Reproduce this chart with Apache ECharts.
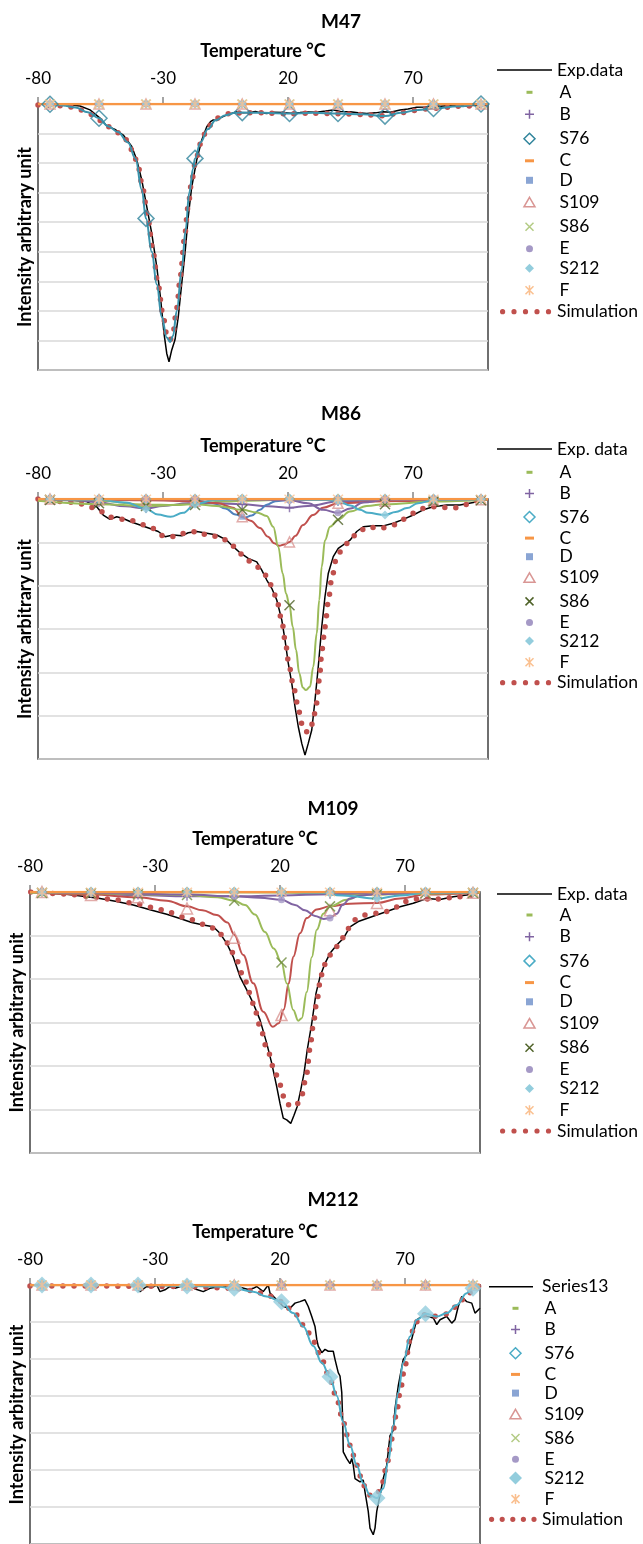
<!DOCTYPE html>
<html><head><meta charset="utf-8">
<script src="https://cdn.jsdelivr.net/npm/echarts@6/dist/echarts.min.js"></script>
<style>html,body{margin:0;padding:0;background:#fff}#c{width:643px;height:1544px}</style>
</head><body><div id="c"></div><script>
// ---------------- data ----------------
const X_TICKS = [-80, -30, 20, 70];
const T_MARK = [-75.2, -55.6, -36.8, -17.2, 1.7, 20.6, 40, 58.8, 78.2, 97.2];
const PANEL_TITLES = ['M47', 'M86', 'M109', 'M212'];
const EXP_NAMES = ['Exp.data', 'Exp. data', 'Exp. data', 'Series13'];
const COMP_NAMES = ['A', 'B', 'S76', 'C', 'D', 'S109', 'S86', 'E', 'S212', 'F'];
const Y_MIN = [-9, -6, -6, -7];
const FLAT = [[-80, 0], [100, 0]];
const ZERO_MARKS = [0, 0, 0, 0, 0, 0, 0, 0, 0, 0];

// M47
const m47Exp = [[-80,0],[-72,-0.01],[-67,-0.03],[-63.2,-0.07],[-59.2,-0.2],[-55.2,-0.48],[-52.5,-0.74],[-49.2,-0.86],[-45.9,-1.05],[-42.5,-1.44],[-40.5,-1.89],[-38.5,-2.57],[-36.5,-3.47],[-34.5,-4.38],[-32.5,-5.5],[-30.9,-6.63],[-29.6,-7.76],[-28.5,-8.44],[-27.6,-8.72],[-26.5,-8.32],[-25.2,-7.98],[-23.9,-7.2],[-22.5,-6.07],[-21.2,-5.05],[-19.9,-3.81],[-18.5,-2.8],[-16.5,-1.89],[-14.5,-1.22],[-12.5,-0.77],[-11,-0.6],[-9.9,-0.54],[-8.5,-0.56],[-7.2,-0.48],[-4.5,-0.37],[-0.5,-0.26],[2,-0.3],[4.8,-0.29],[7,-0.25],[9,-0.3],[11.5,-0.32],[14,-0.28],[18.1,-0.29],[21,-0.31],[24.8,-0.29],[28,-0.27],[31.5,-0.28],[35,-0.24],[38.1,-0.2],[41,-0.25],[44.8,-0.26],[48,-0.3],[51.5,-0.32],[55,-0.3],[58.1,-0.26],[61,-0.28],[64.8,-0.2],[68,-0.17],[71.5,-0.11],[75,-0.1],[78.1,-0.07],[81,-0.08],[84.8,-0.05],[88,-0.06],[91.5,-0.07],[95,-0.04],[99.5,-0.03]];
const m47Sim = [[-80,-0.03],[-75,-0.04],[-70,-0.06],[-65,-0.12],[-61,-0.26],[-57,-0.42],[-53,-0.72],[-49,-0.92],[-45,-1.2],[-42,-1.6],[-40,-2.1],[-38,-2.9],[-36,-3.9],[-34,-5.0],[-32,-6.1],[-30,-7.15],[-28.5,-7.8],[-27.2,-8.0],[-26,-7.75],[-24.5,-6.9],[-23,-5.8],[-21.5,-4.6],[-20,-3.5],[-18.5,-2.6],[-17,-1.95],[-15,-1.35],[-12.5,-0.88],[-10,-0.6],[-7,-0.42],[-3,-0.32],[2,-0.3],[10,-0.3],[20,-0.33],[30,-0.31],[40,-0.33],[50,-0.36],[58,-0.4],[64,-0.32],[70,-0.22],[78,-0.15],[88,-0.08],[100,-0.02]];
const m47S76 = [[-80,0],[-75,-0.01],[-70,-0.05],[-65,-0.12],[-60,-0.28],[-55.6,-0.48],[-52,-0.75],[-48,-0.95],[-44,-1.3],[-41,-1.85],[-38.5,-2.9],[-36.8,-3.87],[-34.5,-5.0],[-32.5,-6.1],[-30.5,-7.2],[-28.5,-7.9],[-27.2,-8.05],[-26,-7.85],[-24.5,-7.0],[-22.5,-5.6],[-21,-4.3],[-19.5,-3.0],[-18,-2.2],[-17.2,-1.84],[-15,-1.3],[-12,-0.85],[-9,-0.55],[-5,-0.38],[-1,-0.3],[1.7,-0.29],[10,-0.3],[20.6,-0.32],[30,-0.3],[40,-0.32],[50,-0.35],[58.8,-0.41],[65,-0.3],[72,-0.2],[78.2,-0.15],[88,-0.08],[97.2,0],[100,0]];
const m47S76Marks = [-0.01, -0.48, -3.87, -1.84, -0.29, -0.32, -0.32, -0.41, -0.15, 0];

// M86
const m86Exp = [[-80,0],[-68.5,-0.02],[-60.5,-0.06],[-56.5,-0.18],[-53.9,-0.37],[-51.2,-0.47],[-48.5,-0.41],[-45.9,-0.45],[-43.2,-0.52],[-39.2,-0.6],[-35.2,-0.68],[-31.9,-0.75],[-29.2,-0.87],[-25.9,-0.83],[-22.5,-0.85],[-19.9,-0.78],[-16.5,-0.75],[-12.5,-0.79],[-8.5,-0.83],[-4.5,-0.95],[-1.9,-1.1],[0.8,-1.24],[4.1,-1.37],[7.5,-1.45],[9.5,-1.64],[11.5,-1.87],[13.5,-2.06],[15.5,-2.33],[17.5,-2.79],[18.8,-3.25],[20.1,-3.79],[21.5,-4.25],[22.8,-4.79],[24.1,-5.25],[25.5,-5.64],[26.8,-5.91],[28.1,-5.64],[29.5,-5.33],[30.8,-4.64],[32.1,-3.87],[33.5,-2.95],[34.8,-2.25],[36.1,-1.72],[38.1,-1.33],[40.1,-1.14],[42.1,-1.06],[44.8,-0.95],[47.5,-0.75],[50.1,-0.64],[54.1,-0.62],[58.1,-0.62],[62.1,-0.56],[66.1,-0.47],[70.1,-0.37],[74.1,-0.25],[78.1,-0.18],[83.5,-0.14],[88.8,-0.14],[94.1,-0.08],[99.5,-0.02]];
const m86Sim = [[-80,0],[-64.5,-0.08],[-60.3,-0.16],[-55.9,-0.25],[-51.2,-0.42],[-42.5,-0.5],[-33.9,-0.68],[-29.9,-0.85],[-24.9,-0.87],[-20.8,-0.78],[-15.9,-0.75],[-11.9,-0.85],[-7.2,-0.87],[-3.2,-1.01],[0.1,-1.22],[3.5,-1.41],[7.5,-1.56],[10.8,-1.75],[13.1,-1.98],[15.2,-2.25],[17.5,-2.79],[18.8,-3.25],[20.5,-3.87],[22.4,-4.39],[24.4,-4.91],[25.5,-5.18],[26.8,-5.37],[28.8,-5.37],[30.1,-5.1],[31.2,-4.79],[32.5,-4.18],[33.6,-3.48],[34.8,-2.95],[36.1,-2.37],[37.5,-1.83],[39.5,-1.33],[41.5,-1.18],[44.8,-0.95],[48.1,-0.75],[52.1,-0.64],[56.8,-0.68],[61.5,-0.62],[65.5,-0.48],[70.1,-0.33],[74.1,-0.22],[78.8,-0.18],[83.5,-0.2],[87.7,-0.2],[92.1,-0.12],[96.8,-0.02],[99.5,0]];
const m86A = [[-80,0],[-55.6,-0.04],[-36.8,-0.13],[-25,-0.14],[-17.2,-0.1],[-5,-0.06],[1.7,-0.04],[20.6,-0.02],[100,0]];
const m86AMarks = [0, -0.04, -0.13, -0.1, -0.04, -0.02, 0, 0, 0, 0];
const m86B = [[-80,0],[-65,-0.03],[-55.6,-0.08],[-45,-0.17],[-36.8,-0.22],[-30,-0.16],[-20,-0.1],[-10,-0.1],[1.7,-0.12],[12,-0.17],[20.6,-0.2],[28,-0.16],[40,-0.06],[58.8,-0.02],[100,0]];
const m86BMarks = [0, -0.08, -0.22, -0.1, -0.12, -0.2, -0.06, -0.02, -0.01, 0];
const m86D = [[-80,0],[-36.8,-0.01],[-17.2,-0.03],[-10,-0.1],[-5,-0.22],[-1,-0.36],[2.5,-0.43],[5.5,-0.38],[8.8,-0.25],[11.5,-0.13],[15,-0.05],[20.6,-0.02],[100,0]];
const m86DMarks = [0, 0, -0.01, -0.03, -0.41, -0.02, 0, 0, 0, 0];
const m86S109 = [[-80,0],[-55.6,-0.02],[-36.8,-0.03],[-17.2,-0.05],[-8,-0.1],[-2,-0.2],[1.7,-0.41],[5,-0.5],[8.8,-0.67],[12,-0.87],[14.5,-1.02],[16.5,-1.08],[18.5,-1.05],[20.6,-0.99],[23,-0.85],[26,-0.6],[30,-0.37],[34,-0.2],[40,-0.1],[58.8,-0.05],[100,-0.02]];
const m86S109Marks = [0, -0.02, -0.03, -0.05, -0.41, -0.99, -0.1, -0.05, -0.03, -0.02];
const m86S86 = [[-80,-0.04],[-55.2,-0.12],[-36.8,-0.16],[-17.2,-0.12],[-8.5,-0.16],[1.7,-0.25],[7.5,-0.31],[11.5,-0.39],[14.1,-0.64],[16.1,-1.1],[17.9,-1.72],[19.2,-2.18],[20.6,-2.45],[21.9,-2.95],[23.2,-3.48],[24.5,-4.02],[25.9,-4.35],[27.2,-4.41],[28.8,-4.33],[30.1,-3.87],[31.5,-3.1],[32.5,-2.33],[33.5,-1.56],[34.8,-0.95],[36.8,-0.64],[40,-0.48],[44.8,-0.29],[51.5,-0.16],[58.8,-0.12],[78.2,-0.06],[99.5,-0.02]];
const m86S86Marks = [-0.02, -0.1, -0.16, -0.14, -0.25, -2.45, -0.48, -0.12, -0.06, -0.03];
const m86E = [[-80,0],[1.7,-0.01],[20.6,-0.03],[28,-0.1],[34,-0.25],[40,-0.32],[45,-0.22],[50,-0.08],[58.8,-0.02],[100,0]];
const m86EMarks = [0, 0, 0, 0, -0.01, -0.03, -0.32, -0.02, 0, 0];
const m86S212 = [[-80,0],[-55.6,-0.02],[-45,-0.08],[-36.8,-0.23],[-32,-0.36],[-27,-0.41],[-22,-0.32],[-17.2,-0.12],[-10,-0.03],[1.7,0],[20.6,0],[35,-0.02],[40,-0.05],[45,-0.15],[48.8,-0.25],[52,-0.32],[58.8,-0.37],[63,-0.3],[67.6,-0.21],[72,-0.1],[78.2,-0.02],[100,0]];
const m86S212Marks = [0, -0.02, -0.23, -0.12, 0, 0, -0.05, -0.37, -0.02, 0];

// M109
const m109Exp = [[-79.7,0],[-65.3,-0.05],[-57.3,-0.11],[-52,-0.15],[-45.3,-0.22],[-38.7,-0.3],[-32,-0.41],[-25.3,-0.51],[-20,-0.61],[-15.3,-0.7],[-10.7,-0.76],[-6.7,-0.8],[-4,-0.95],[-1.3,-1.18],[1.3,-1.49],[4,-1.95],[6.7,-2.25],[9.3,-2.56],[12,-2.94],[14.7,-3.48],[16.7,-3.94],[18.7,-4.48],[20,-4.86],[21.3,-5.2],[22.7,-5.24],[24.3,-5.32],[25.6,-5.13],[26.9,-4.93],[28.3,-4.55],[29.6,-4.17],[30.9,-3.63],[32.7,-3.02],[34.4,-2.33],[36,-1.95],[38,-1.64],[40,-1.41],[42.7,-1.22],[45.3,-1.07],[48,-0.8],[51.3,-0.68],[54.7,-0.61],[58.7,-0.53],[62.7,-0.45],[68,-0.34],[73.3,-0.26],[78.7,-0.15],[84,-0.17],[89.3,-0.11],[94.7,-0.07],[99.3,-0.03]];
const m109Sim = [[-79.7,0],[-64.7,-0.05],[-55.3,-0.11],[-46,-0.18],[-36.7,-0.28],[-27.3,-0.41],[-18.3,-0.58],[-9.3,-0.76],[-5.3,-0.87],[-2,-1.07],[0,-1.3],[2.4,-1.55],[6,-2.04],[9.3,-2.56],[12,-3.08],[14.7,-3.59],[18,-4.13],[19.7,-4.4],[22.4,-4.86],[24.4,-4.92],[26.4,-4.92],[28.7,-4.67],[30.7,-4.17],[32,-3.59],[33.3,-3.06],[34.7,-2.52],[36.3,-1.98],[37.3,-1.72],[39.3,-1.49],[42,-1.3],[44.7,-1.07],[47.3,-0.84],[50,-0.64],[54,-0.53],[58.7,-0.49],[62.9,-0.45],[67.3,-0.34],[71.7,-0.18],[76.3,-0.15],[80.9,-0.17],[85.3,-0.15],[90,-0.12],[97.3,-0.07],[100,-0.03]];
const m109A = [[-80,0],[20.6,-0.01],[40,-0.04],[50,-0.06],[58.8,-0.06],[70,-0.03],[100,0]];
const m109AMarks = [0, 0, 0, 0, 0, -0.01, -0.04, -0.06, -0.02, 0];
const m109B = [[-80,0],[-55.6,-0.03],[-36.8,-0.07],[-17.2,-0.1],[1.7,-0.1],[20.6,-0.08],[40,-0.05],[58.8,-0.02],[100,0]];
const m109BMarks = [0, -0.03, -0.07, -0.1, -0.1, -0.08, -0.05, -0.02, -0.01, 0];
const m109S109 = [[-80,0],[-55.6,-0.06],[-36.8,-0.12],[-25.3,-0.2],[-17.2,-0.33],[-11,-0.42],[-5.3,-0.53],[-1,-0.7],[1.7,-0.98],[5.3,-1.45],[9.3,-2.1],[13.3,-2.75],[17.1,-3.1],[19.5,-3.02],[21.5,-2.7],[23.5,-2.1],[25.3,-1.49],[28,-0.95],[30.7,-0.6],[34.7,-0.4],[40,-0.33],[48,-0.27],[58.8,-0.25],[68,-0.15],[78.2,-0.06],[100,-0.02]];
const m109S109Marks = [0, -0.07, -0.12, -0.38, -1.05, -2.83, -0.42, -0.25, -0.05, -0.02];
const m109S86 = [[-80,-0.02],[-55.6,-0.03],[-36.8,-0.05],[-17.2,-0.07],[-5,-0.12],[1.7,-0.2],[6,-0.3],[10,-0.52],[14,-0.92],[17.5,-1.3],[20.6,-1.62],[22.7,-2.1],[25.3,-2.71],[27.3,-2.96],[28.7,-2.9],[30.7,-2.3],[32.7,-1.5],[34.7,-0.87],[37.3,-0.5],[40,-0.33],[46.7,-0.18],[52,-0.08],[58.8,-0.05],[100,-0.02]];
const m109S86Marks = [-0.02, -0.03, -0.05, -0.07, -0.2, -1.62, -0.33, -0.05, -0.03, -0.02];
const m109E = [[-80,0],[-55.6,-0.02],[-36.8,-0.04],[-17.2,-0.06],[1.7,-0.1],[12,-0.13],[20.6,-0.18],[26,-0.3],[30,-0.42],[34,-0.55],[37.5,-0.62],[40,-0.6],[42.7,-0.5],[45,-0.3],[48,-0.15],[52,-0.08],[58.8,-0.05],[78.2,-0.02],[100,0]];
const m109EMarks = [0, -0.02, -0.04, -0.06, -0.1, -0.18, -0.6, -0.05, -0.02, 0];
const m109S212 = [[-80,0],[20.6,0],[35,-0.02],[45,-0.08],[58.8,-0.15],[68,-0.08],[78.2,-0.02],[100,0]];
const m109S212Marks = [0, 0, 0, 0, 0, 0, -0.03, -0.15, -0.02, 0];

// M212
const m212Exp = [[-80,0],[-60,0],[-45,0],[-38,-0.02],[-36,-0.18],[-34.5,-0.1],[-33.3,-0.04],[-31,-0.06],[-29.3,0],[-28,-0.18],[-26,-0.13],[-24,-0.04],[-22,-0.09],[-19.3,-0.03],[-16,-0.04],[-13.3,-0.12],[-10.7,-0.18],[-8,-0.09],[-4,-0.04],[0,-0.03],[4,-0.06],[7.3,-0.12],[9.3,-0.09],[10.7,-0.04],[13.3,-0.18],[15.3,0],[16,-0.22],[18.7,-0.4],[21.3,-0.58],[24,-0.63],[26,-0.49],[28,-0.45],[30,-0.4],[31.3,-0.58],[32.7,-0.85],[34,-1.12],[34.7,-1.47],[35.3,-1.65],[36.7,-1.83],[38,-1.74],[39.3,-1.79],[40,-1.83],[41.3,-1.79],[42,-2.01],[43.3,-2.37],[44,-2.46],[44.7,-2.9],[45.1,-3.71],[45.3,-4.51],[46.7,-4.69],[48,-4.83],[48.7,-4.69],[49.3,-4.87],[50,-5.23],[52,-5.32],[53.3,-5.27],[54,-5.59],[55.3,-6.12],[56,-6.57],[57.3,-6.75],[58,-6.57],[58.7,-6.12],[60,-5.67],[61.3,-5.23],[62.7,-4.87],[64,-4.07],[65.3,-3.93],[66,-3.35],[67.3,-2.73],[69.3,-2.01],[71.3,-1.83],[73.3,-1.3],[74.7,-0.94],[76.7,-0.85],[79.3,-0.85],[81.3,-0.89],[82.7,-1.07],[84,-0.94],[86.7,-0.85],[88.7,-1.03],[90,-0.94],[91.3,-0.58],[92.7,-0.31],[94.7,-0.45],[96.7,-0.49],[98,-0.76],[100,-0.63]];
const m212Sim = [[-80,-0.03],[-52,-0.03],[-17.3,-0.04],[1.3,-0.09],[9.3,-0.15],[14.7,-0.27],[20.7,-0.45],[25.3,-0.72],[30,-1.12],[33.3,-1.52],[36.7,-2.01],[40,-2.55],[42.7,-3.08],[45.3,-3.71],[48,-4.33],[50.7,-4.87],[53.3,-5.41],[56,-5.68],[58.7,-5.68],[60.7,-5.41],[62.7,-4.87],[64.7,-4.16],[66.7,-3.44],[68,-2.9],[70,-2.19],[72,-1.47],[74,-1.03],[77.3,-0.8],[81.3,-0.85],[86.7,-0.78],[90.7,-0.58],[94.7,-0.27],[98.7,-0.04],[100,-0.02]];
const m212S212 = [[-80,-0.01],[-55.6,0],[-36.8,0],[-17.2,-0.03],[-5.3,-0.04],[1.7,-0.09],[9.3,-0.18],[14.7,-0.31],[20.6,-0.45],[25.3,-0.76],[29.3,-1.12],[33.3,-1.65],[36.7,-2.1],[40,-2.48],[42.7,-2.99],[45.3,-3.71],[48,-4.33],[50.7,-4.87],[53.3,-5.36],[56,-5.68],[58.8,-5.76],[61.3,-5.5],[63.3,-4.78],[65.3,-3.8],[67.3,-2.91],[69.3,-2.1],[72,-1.39],[74.7,-0.94],[78.2,-0.78],[82.7,-0.85],[86.7,-0.76],[90.7,-0.54],[94.7,-0.22],[97.2,-0.09],[100,0]];
const m212S212Marks = [0, 0, 0, -0.03, -0.09, -0.45, -2.48, -5.76, -0.78, -0.09];

// ---------------- assembly ----------------
const PANELS = [
  { exp: m47Exp, sim: m47Sim, comps: { A:[FLAT,ZERO_MARKS], B:[FLAT,ZERO_MARKS], S76:[m47S76,m47S76Marks], C:[FLAT,ZERO_MARKS], D:[FLAT,ZERO_MARKS], S109:[FLAT,ZERO_MARKS], S86:[FLAT,ZERO_MARKS], E:[FLAT,ZERO_MARKS], S212:[FLAT,ZERO_MARKS], F:[FLAT,ZERO_MARKS] } },
  { exp: m86Exp, sim: m86Sim, comps: { A:[m86A,m86AMarks], B:[m86B,m86BMarks], S76:[FLAT,ZERO_MARKS], C:[FLAT,ZERO_MARKS], D:[m86D,m86DMarks], S109:[m86S109,m86S109Marks], S86:[m86S86,m86S86Marks], E:[m86E,m86EMarks], S212:[m86S212,m86S212Marks], F:[FLAT,ZERO_MARKS] } },
  { exp: m109Exp, sim: m109Sim, comps: { A:[m109A,m109AMarks], B:[m109B,m109BMarks], S76:[FLAT,ZERO_MARKS], C:[FLAT,ZERO_MARKS], D:[FLAT,ZERO_MARKS], S109:[m109S109,m109S109Marks], S86:[m109S86,m109S86Marks], E:[m109E,m109EMarks], S212:[m109S212,m109S212Marks], F:[FLAT,ZERO_MARKS] } },
  { exp: m212Exp, sim: m212Sim, comps: { A:[FLAT,ZERO_MARKS], B:[FLAT,ZERO_MARKS], S76:[FLAT,ZERO_MARKS], C:[FLAT,ZERO_MARKS], D:[FLAT,ZERO_MARKS], S109:[FLAT,ZERO_MARKS], S86:[FLAT,ZERO_MARKS], E:[FLAT,ZERO_MARKS], S212:[m212S212,m212S212Marks], F:[FLAT,ZERO_MARKS] } }
];

const FONT = 'Lato, "Open Sans", sans-serif';
const GRIDS = [
  {left:38, top:104, width:450, height:266},
  {left:38, top:499, width:450, height:260},
  {left:30, top:892, width:450, height:261},
  {left:30, top:1285, width:450, height:261}
];
const TITLE_POS = [[341,21.5],[341,414],[333,808.5],[333,1200]];
const LEG = [
  {expX:497, expW:55, lineLen:55, mkX:502, mkW:50, simX:500, simW:52, dots:[2.6,14,25.5,37,48.5], expY:70, aY:93.3, step:21.8, simY:311.7},
  {expX:497, expW:55, lineLen:55, mkX:502, mkW:50, simX:500, simW:52, dots:[2.6,14,25.5,37,48.5], expY:449, aY:473.3, step:20.9, simY:682.7},
  {expX:497, expW:55, lineLen:55, mkX:502, mkW:50, simX:500, simW:52, dots:[2.6,14,25.5,37,48.5], expY:894, aY:916, step:21.5, simY:1131},
  {expX:489, expW:48, lineLen:44, mkX:489, mkW:48, simX:489, simW:48, dots:[2.6,13.2,23.8,34.4,45], expY:1286.7, aY:1309.3, step:21.0, simY:1519.3}
];
const IH = 22;          // legend item height
const ITEM_EXTRA = 2.3; // measured extra height of one legend row

const SYM = {
  plus: 'path://M0,5L10,5M5,0L5,10',
  cross: 'path://M0,0L10,10M10,0L0,10',
  star: 'path://M5,0L5,10M0.8,0.8L9.2,9.2M9.2,0.8L0.8,9.2',
  hDiamond: 'path://M5,0L10,5L5,10L0,5Z',
  hTri: 'path://M5,0L10,9L0,9Z'
};
const BASE_STYLE = {
  A:    {line:'#9BBB59', sym:'rect', size:[6,3], fill:'#9BBB59'},
  B:    {line:'#8064A2', sym:SYM.plus, size:9, stroke:'#8064A2'},
  S76:  {line:'#4BACC6', sym:SYM.hDiamond, size:9, stroke:'#4BACC6'},
  C:    {line:'#F79646', sym:'rect', size:[9,3], fill:'#F79646'},
  D:    {line:'#4F81BD', sym:'rect', size:6, fill:'#8AA5D4'},
  S109: {line:'#C0504D', sym:SYM.hTri, size:10, stroke:'#D99694'},
  S86:  {line:'#9BBB59', sym:SYM.cross, size:9, stroke:'#B3CB84'},
  E:    {line:'#8064A2', sym:'circle', size:7, fill:'#A599C6'},
  S212: {line:'#4BACC6', sym:'diamond', size:9, fill:'#93CDDD'},
  F:    {line:'#F79646', sym:SYM.star, size:10, stroke:'#FAC090'}
};
const PANEL_STYLE = [
  {S76:{line:'#3A93AC', stroke:'#31859C', size:16}},
  {S86:{stroke:'#4F6228', size:10}},
  {S86:{stroke:'#6E8B3D', leg:'#4F6228', size:10}, S109:{size:11}},
  {S212:{size:17, legSize:13}}
];
function styleFor(i, n) { return Object.assign({}, BASE_STYLE[n], (PANEL_STYLE[i] || {})[n] || {}); }

function legendIcon(n, W, st) {
  const c = W / 2, y = IH / 2, pad = 'M0,0M' + W + ',' + IH;
  let d = '';
  switch (n) {
    case 'A': d = `M${c-3},${y-1.5}h6v3h-6z`; break;
    case 'B': d = `M${c-4.5},${y}h9M${c},${y-4.5}v9`; break;
    case 'S76': d = `M${c},${y-5.5}L${c+5.5},${y}L${c},${y+5.5}L${c-5.5},${y}Z`; break;
    case 'C': d = `M${c-4.5},${y-1.5}h9v3h-9z`; break;
    case 'D': d = `M${c-3.5},${y-3.5}h7v7h-7z`; break;
    case 'S109': d = `M${c},${y-5}L${c+5.5},${y+4.5}L${c-5.5},${y+4.5}Z`; break;
    case 'S86': d = `M${c-4},${y-4}L${c+4},${y+4}M${c+4},${y-4}L${c-4},${y+4}`; break;
    case 'E': d = `M${c-3.5},${y}a3.5,3.5 0 1,0 7,0a3.5,3.5 0 1,0 -7,0z`; break;
    case 'S212': { const h = st.legSize ? st.legSize / 2 : 4.5; d = `M${c},${y-h}L${c+h},${y}L${c},${y+h}L${c-h},${y}Z`; break; }
    case 'F': d = `M${c},${y-5}v10M${c-4},${y-4}L${c+4},${y+4}M${c+4},${y-4}L${c-4},${y+4}`; break;
  }
  return 'path://' + pad + d;
}
function lineIcon(W, len) { return `path://M0,0M${W},${IH}M0,${IH/2-0.75}h${len}v1.5h-${len}z`; }
function dotsIcon(W, xs) {
  let d = `M0,0M${W},${IH}`;
  xs.forEach(x => { d += `M${x-2.6},${IH/2}a2.6,2.6 0 1,0 5.2,0a2.6,2.6 0 1,0 -5.2,0z`; });
  return 'path://' + d;
}

const series = [], grids = [], xAxes = [], yAxes = [], legends = [], graphics = [];
PANELS.forEach((P, i) => {
  grids.push(Object.assign({show:true, borderColor:'#404040', borderWidth:1.5, backgroundColor:'transparent'}, GRIDS[i]));
  xAxes.push({
    type:'value', gridIndex:i, position:'top', min:-80, max:100,
    axisLine:{show:true, onZero:false, lineStyle:{color:'#868686', width:1}},
    axisTick:{show:true, customValues:X_TICKS, length:7, lineStyle:{color:'#868686', width:1.5}},
    axisLabel:{customValues:X_TICKS, margin:17, fontFamily:FONT, fontSize:17, color:'#000'},
    splitLine:{show:false},
    name:'Temperature °C', nameLocation:'middle', nameGap:44,
    nameTextStyle:{fontFamily:FONT, fontWeight:'bold', fontSize:18, color:'#000'}
  });
  yAxes.push({
    type:'value', gridIndex:i, min:Y_MIN[i], max:0, interval:1,
    axisLabel:{show:false}, axisTick:{show:false}, axisLine:{show:false},
    splitLine:{show:true, lineStyle:{color:'#D9D9D9', width:1.5}},
    name:'Intensity arbitrary unit', nameLocation:'middle', nameRotate:90, nameGap:4,
    nameTextStyle:{fontFamily:FONT, fontWeight:'bold', fontSize:18, color:'#000'}
  });
  const ax = {xAxisIndex:i, yAxisIndex:i, silent:true};
  series.push(Object.assign({type:'line', name:EXP_NAMES[i], data:P.exp, symbol:'none', lineStyle:{color:'#000', width:1.5}, z:2}, ax));
  series.push(Object.assign({type:'line', name:'Simulation', data:P.sim, symbol:'none', smooth:0.3, smoothMonotone:'x', lineStyle:{color:'#C0504D', width:5.5, type:[0, 11], cap:'round'}, z:3}, ax));
  COMP_NAMES.forEach(n => {
    const st = styleFor(i, n);
    const [line, marks] = P.comps[n];
    series.push(Object.assign({type:'line', name:n, data:line, symbol:'none', smooth:0.4, smoothMonotone:'x', lineStyle:{color:st.line, width:n === 'C' ? 2.5 : 2}, z: n === 'C' ? 5 : 4}, ax));
    series.push(Object.assign({type:'scatter', name:n, data:T_MARK.map((t, k) => [t, marks[k]]), symbol:st.sym, symbolSize:st.size,
      itemStyle: st.fill ? {color:st.fill, borderWidth:0} : {color:'none', borderColor:st.stroke, borderWidth:1.5},
      z: n === 'F' ? 8 : 6}, ax));
  });
  // legends
  const L = LEG[i];
  const base = {orient:'vertical', padding:0, selectedMode:false, itemHeight:IH, height:400,
    textStyle:{fontFamily:FONT, fontSize:17.5, color:'#000'}};
  legends.push(Object.assign({}, base, {left:L.expX, top:L.expY - IH / 2, itemWidth:L.expW,
    data:[{name:EXP_NAMES[i], icon:lineIcon(L.expW, L.lineLen), itemStyle:{color:'#000', borderWidth:0}}]}));
  legends.push(Object.assign({}, base, {left:L.mkX, top:L.aY - IH / 2 - 1, itemWidth:L.mkW, itemGap:L.step - IH - ITEM_EXTRA,
    data: COMP_NAMES.map(n => {
      const st = styleFor(i, n);
      const col = st.leg || st.stroke || st.fill;
      return {name:n, icon:legendIcon(n, L.mkW, st),
        itemStyle: st.fill ? {color:col, borderWidth:0} : {color:'none', borderColor:col, borderWidth:1.5}};
    })}));
  legends.push(Object.assign({}, base, {left:L.simX, top:L.simY - IH / 2, itemWidth:L.simW,
    data:[{name:'Simulation', icon:dotsIcon(L.simW, L.dots), itemStyle:{color:'#C0504D', borderWidth:0}}]}));
  graphics.push({type:'text', x:TITLE_POS[i][0], y:TITLE_POS[i][1], silent:true,
    style:{text:PANEL_TITLES[i], fontFamily:FONT, fontWeight:'bold', fontSize:19, fill:'#000', align:'center', verticalAlign:'middle'}});
});

const chart = echarts.init(document.getElementById('c'), null, {renderer:'canvas'});
chart.setOption({
  animation:false,
  backgroundColor:'#fff',
  grid:grids, xAxis:xAxes, yAxis:yAxes, legend:legends, graphic:graphics, series:series
});
</script></body></html>
